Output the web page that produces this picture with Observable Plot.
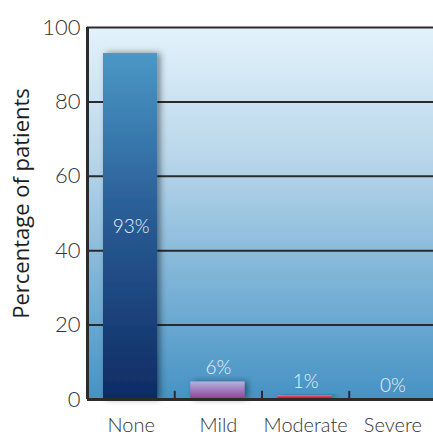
<!DOCTYPE html>
<html>
<head>
<meta charset="utf-8">
<script src="https://cdn.jsdelivr.net/npm/d3@7"></script>
<script src="https://cdn.jsdelivr.net/npm/@observablehq/plot@0.6"></script>
<style>
  html, body { margin: 0; padding: 0; background: #fff; overflow: hidden; }
  #chart svg { display: block; overflow: visible; }
</style>
</head>
<body>
<div id="chart"></div>
<script>
const categories = ["None", "Mild", "Moderate", "Severe"];
const barHeights = [93, 4.7, 1, 0];
const labels = ["93%", "6%", "1%", "0%"];
const yTicks = [0, 20, 40, 60, 80, 100];
const fills = ["url(#gNone)", "url(#gMild)", "url(#gMod)", "none"];

const data = categories.map((c, i) => ({i, category: c, value: barHeights[i], label: labels[i], fill: fills[i]}));
const boundaries = d3.range(1, categories.length);

const font = "Lato, 'Open Sans', sans-serif";

const chart = Plot.plot({
  width: 433,
  height: 434,
  marginLeft: 87,
  marginRight: -3,
  marginTop: 27,
  marginBottom: 35,
  style: {fontFamily: font, background: "transparent", overflow: "visible"},
  x: {domain: [0, categories.length], axis: null},
  y: {domain: [0, 100], axis: null},
  marks: [
    Plot.frame({fill: "url(#gBg)", stroke: "none"}),
    Plot.ruleY(yTicks.filter(d => d > 0), {stroke: "#2b2b2b", strokeWidth: 2}),
    Plot.rectY(data.filter(d => d.value > 0), {
      x1: "i", x2: d => d.i + 1, y1: 0, y2: "value",
      insetLeft: 16, insetRight: 17,
      fill: "fill"
    }),
    Plot.ruleX(boundaries, {x: d => d, y1: 0, y2: 2.2, stroke: "#2b2b2b", strokeWidth: 2}),
    Plot.ruleY([0], {stroke: "#2b2b2b", strokeWidth: 3}),
    Plot.ruleX([0], {y1: 0, y2: 100, stroke: "#2b2b2b", strokeWidth: 3}),
    Plot.text(data.filter(d => d.value > 50), {
      x: d => d.i + 0.5, y: d => d.value / 2, text: "label",
      fill: "#e9f0f7", fontSize: 19, fontWeight: 300
    }),
    Plot.text(data.filter(d => d.value <= 50), {
      x: d => d.i + 0.5, y: "value", text: "label", dy: -14,
      fill: "#e9f0f7", fontSize: 19, fontWeight: 300
    }),
    Plot.axisY({ticks: yTicks, tickSize: 0, tickPadding: 7, fontSize: 22, fontWeight: 300, fill: "#333", label: null}),
    Plot.axisX({ticks: categories.map((c, i) => i + 0.5), tickFormat: d => categories[Math.floor(d)],
      tickSize: 0, tickPadding: 18, fontSize: 20, fontWeight: 300, fill: "#333", label: null}),
    Plot.text(["Percentage of patients"], {
      frameAnchor: "left", textAnchor: "middle", dx: -66, dy: -10, rotate: -90, text: d => d,
      fontSize: 22, fill: "#1e1e1e", fontFamily: "'Open Sans', sans-serif"
    })
  ]
});

const svg = d3.select(chart);
const defs = svg.insert("defs", ":first-child");
function grad(id, stops) {
  const g = defs.append("linearGradient").attr("id", id).attr("x1", 0).attr("y1", 0).attr("x2", 0).attr("y2", 1);
  stops.forEach(([o, c]) => g.append("stop").attr("offset", o).attr("stop-color", c));
}
grad("gBg", [[0, "#e3f2fb"], [0.35, "#b9d6ea"], [1, "#4592c4"]]);
grad("gNone", [[0, "#4a98c6"], [0.45, "#2a5e97"], [1, "#0f2b64"]]);
grad("gMild", [[0, "#b4b2de"], [1, "#8c3f98"]]);
grad("gMod", [[0, "#f0808a"], [0.4, "#e02c3c"], [1, "#d8202f"]]);
const f = defs.append("filter").attr("id", "shadow").attr("x", "-30%").attr("y", "-30%").attr("width", "160%").attr("height", "160%");
f.append("feDropShadow").attr("dx", 3).attr("dy", 0).attr("stdDeviation", 3).attr("flood-color", "#000").attr("flood-opacity", 0.45);
svg.selectAll("rect").filter(function() { const v = this.getAttribute("fill"); return v && v.startsWith("url(#g") && v !== "url(#gBg)"; }).attr("filter", "url(#shadow)");

document.getElementById("chart").appendChild(chart);
</script>
</body>
</html>
